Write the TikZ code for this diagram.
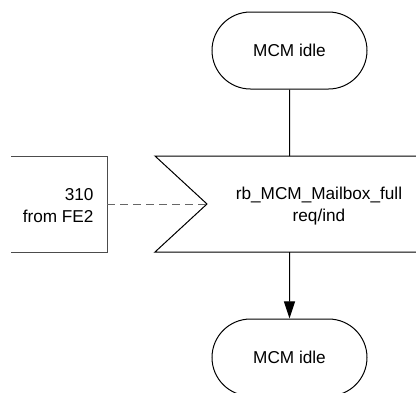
\documentclass[tikz,border=0pt]{standalone}
\usepackage{fontspec}
\setmainfont{Liberation Sans}
\usetikzlibrary{shapes.misc,arrows.meta}
\begin{document}
\begin{tikzpicture}[x=1pt,y=-1pt,line width=1pt,font=\fontsize{17.2}{22}\selectfont,
  state/.style={draw,rounded rectangle,minimum width=155pt,minimum height=77pt,inner sep=0pt},
  txt/.style={align=center,inner sep=0pt}]
\useasboundingbox (0,0) rectangle (416,392);
\node[state](idle1) at (289.5,50.5){MCM idle};
\node[state](idle2) at (289.5,357.5){MCM idle};
% input signal
\draw(155,156) -- (430,156) -- (430,252) -- (155,252) -- (207,204) -- cycle;
\coordinate(sigin) at (207,204);
\coordinate(sigtop) at (289.5,156);
\coordinate(sigbot) at (289.5,252);
\node[txt](sig) at (319,206){rb\_MCM\_Mailbox\_full\\req/ind};
% sender
\draw[gray!60!black](11,156) -- (107,156) -- (107,252) -- (11,252);
\coordinate(srcout) at (107,204);
\node[txt,align=right,anchor=east](src) at (94,206){310\\from FE2};
\draw[gray!80!black,dash pattern=on 8pt off 5pt](srcout) -- (sigin);
\draw(idle1) -- (sigtop);
\draw[-{Triangle[length=17pt,width=11pt]}](sigbot) -- (idle2);
\end{tikzpicture}
\end{document}
